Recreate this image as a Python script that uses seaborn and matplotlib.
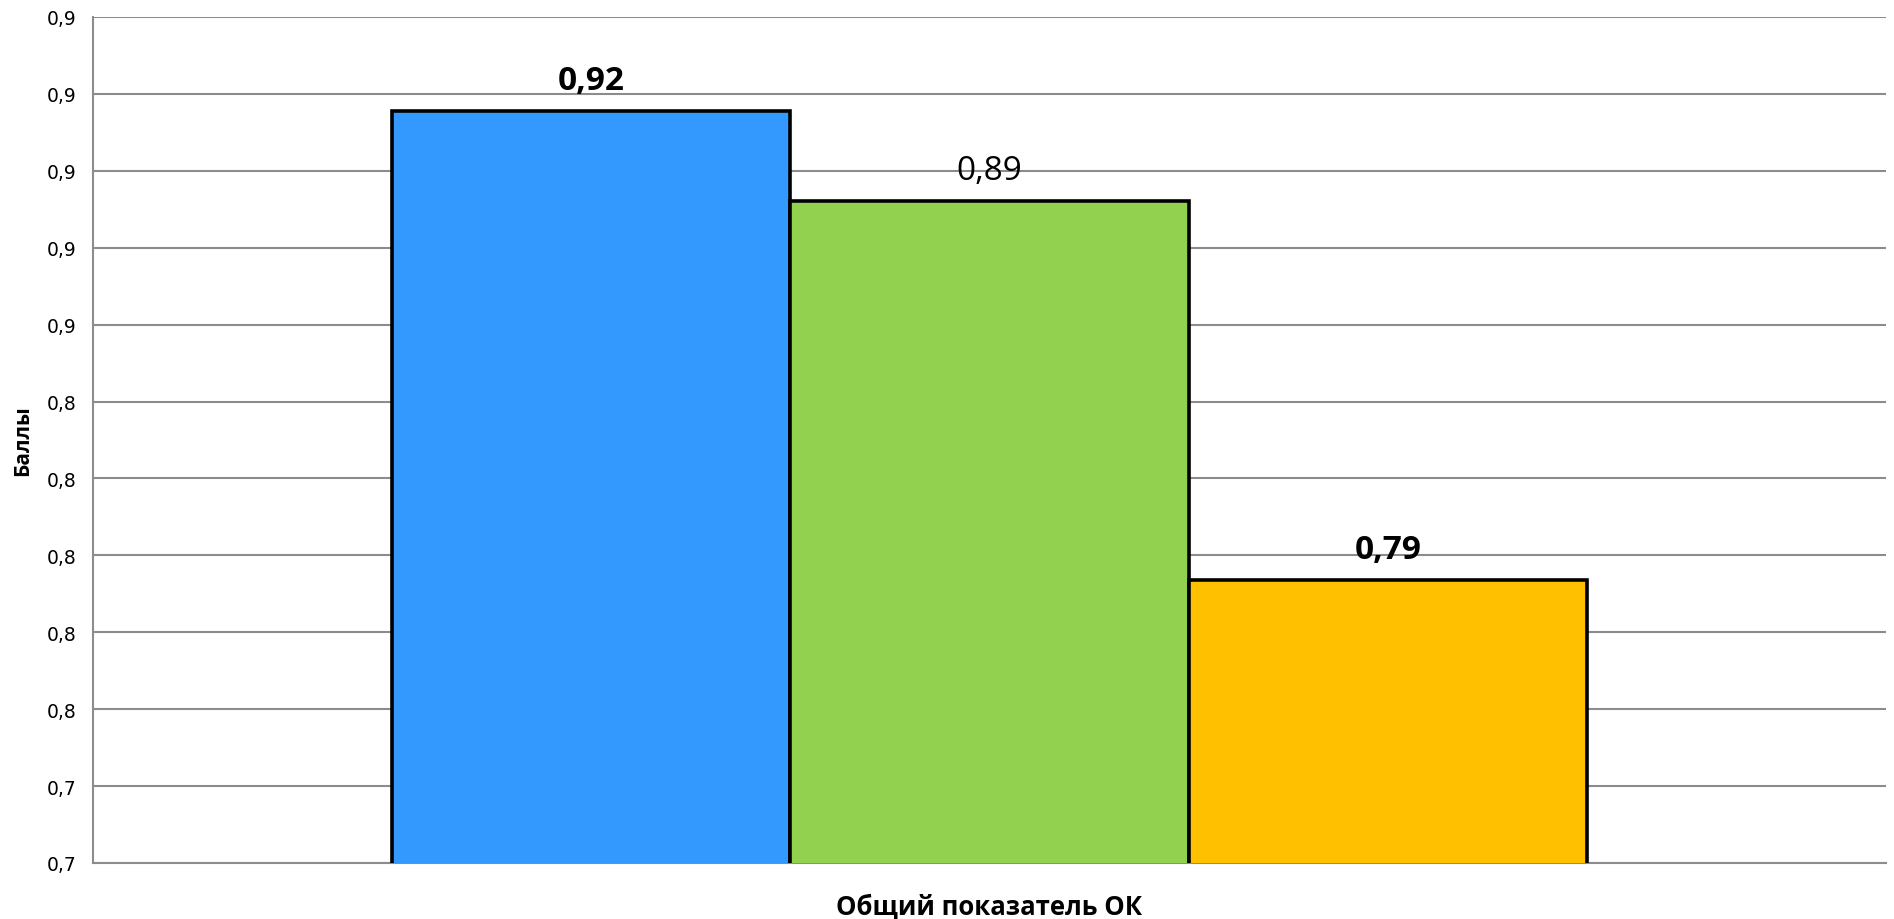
import pandas as pd
import matplotlib.pyplot as plt
import seaborn as sns
from matplotlib.ticker import FuncFormatter, MultipleLocator

category = ["Общий показатель ОК"]
series = ["Группа 1", "Группа 2", "Группа 3"]
values = [0.9156, 0.8922, 0.7936]
labels = ["0,92", "0,89", "0,79"]
label_bold = [True, False, True]
colors = ["#3399FF", "#92D050", "#FFC000"]

df = pd.DataFrame({"cat": category * len(series), "series": series, "value": values})

sns.set_style("white")
plt.rcParams['font.family'] = ['DejaVu Sans']
plt.rcParams['text.color'] = 'black'
plt.rcParams['axes.labelcolor'] = 'black'

fig = plt.figure(figsize=(18.94, 9.20), dpi=100)
ax = fig.add_axes([93 / 1894, 56 / 920, 1793 / 1894, 846 / 920])

sns.barplot(data=df, x="cat", y="value", hue="series", palette=colors,
            width=0.667, dodge=True, legend=False, ax=ax,
            edgecolor="black", linewidth=2.6, saturation=1, zorder=3)

ax.set_ylim(0.72, 0.94)
ax.set_xlim(-0.5, 0.5)
ax.yaxis.set_major_locator(MultipleLocator(0.02))
ax.yaxis.set_major_formatter(FuncFormatter(lambda v, _: f"{v:.1f}".replace(".", ",")))
ax.grid(axis="y", color="#8c8c8c", linewidth=1.5, zorder=0)
ax.set_axisbelow(True)

for s in ["top", "right"]:
    ax.spines[s].set_visible(False)
for s in ["left", "bottom"]:
    ax.spines[s].set_color("#8c8c8c")
    ax.spines[s].set_linewidth(1.5)

ax.tick_params(axis="y", which="major", length=6, width=1.5, color="#8c8c8c",
               labelsize=13.5, labelcolor="black", pad=6)
ax.set_xticks([])
ax.set_xticks([-0.5, 0.5], minor=True)
ax.tick_params(axis="x", which="minor", length=10, width=1.5, color="#8c8c8c")

for bar, txt, bold in zip(ax.patches, labels, label_bold):
    ax.annotate(txt, (bar.get_x() + bar.get_width() / 2, bar.get_height()),
                xytext=(0, 10), textcoords="offset points", ha="center", va="bottom",
                fontsize=24, fontweight="bold" if bold else "normal",
                family="Open Sans", color="black")

ax.set_ylabel("Баллы", fontsize=15, fontweight="bold", family="Open Sans")
ax.yaxis.set_label_coords(-0.0335, 0.5)
ax.set_xlabel("Общий показатель ОК", fontsize=18.5, fontweight="bold",
              family="Open Sans", labelpad=8)

fig.savefig("out.png", dpi=100)
